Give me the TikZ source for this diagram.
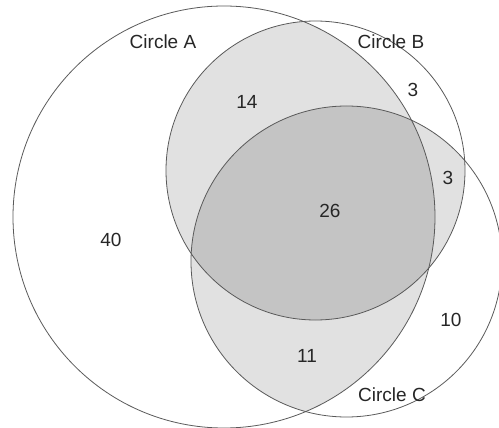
\documentclass[tikz,border=0pt]{standalone}
\usepackage{fontspec}
\setmainfont{Liberation Sans}
\begin{document}
\begin{tikzpicture}[x=1pt,y=-1pt,
  lbl/.style={font=\fontsize{19}{22}\selectfont, text=black!85, inner sep=0pt},
  ring/.style={draw=black!65, line width=0.8pt}]
\useasboundingbox (0,0) rectangle (499,428);
\def\Ac{(224,217) circle [radius=211]}
\def\Bc{(315.5,170.5) circle [radius=149.5]}
\def\Cc{(346.5,261.5) circle [radius=155.5]}
\definecolor{lightg}{RGB}{225,225,225}
\definecolor{darkg}{RGB}{196,196,196}
% pairwise overlaps
\begin{scope}\clip \Ac; \fill[lightg] \Bc; \end{scope}
\begin{scope}\clip \Ac; \fill[lightg] \Cc; \end{scope}
\begin{scope}\clip \Bc; \fill[lightg] \Cc; \end{scope}
% triple overlap
\begin{scope}\clip \Ac; \clip \Bc; \fill[darkg] \Cc; \end{scope}
% outlines
\draw[ring] \Ac;
\draw[ring] \Bc;
\draw[ring] \Cc;
% labels
\node[lbl] (la) at (163,42) {Circle A};
\node[lbl] (lb) at (391,42) {Circle B};
\node[lbl] (lc) at (392,395) {Circle C};
\node[lbl] (n14) at (247,102) {14};
\node[lbl] (n3a) at (413,90) {3};
\node[lbl] (n3b) at (448,178) {3};
\node[lbl] (n26) at (330,211) {26};
\node[lbl] (n40) at (111,240) {40};
\node[lbl] (n10) at (451,320) {10};
\node[lbl] (n11) at (307,356) {11};
\end{tikzpicture}
\end{document}
